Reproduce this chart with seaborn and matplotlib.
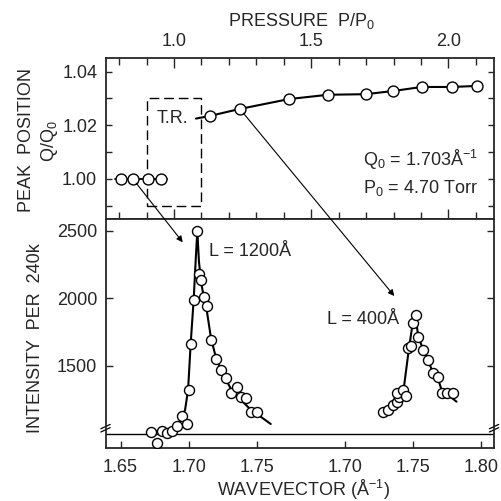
import numpy as np
import pandas as pd
import matplotlib
matplotlib.use("Agg")
import matplotlib.pyplot as plt
import matplotlib.transforms as mtransforms
from matplotlib.patches import Rectangle, ConnectionPatch
from matplotlib.ticker import FixedLocator, MultipleLocator
import seaborn as sns

# --- top panel: peak position vs pressure ---
pressure_low = [0.806, 0.850, 0.906, 0.953]
qpos_low = [1.000, 1.000, 1.000, 1.000]
pressure_high = [1.131, 1.240, 1.420, 1.562, 1.698, 1.799, 1.902, 2.012, 2.105]
qpos_high = [1.0235, 1.0261, 1.0298, 1.0314, 1.0316, 1.0328, 1.0343, 1.0343, 1.0347]

# --- bottom panel: scans (L=1200 A and L=400 A) ---
wv_1200 = [1.6724, 1.6766, 1.6805, 1.6839, 1.6876, 1.6917, 1.6952, 1.6986, 1.7001,
           1.7015, 1.7037, 1.7062, 1.7076, 1.7093, 1.7111, 1.7133, 1.7162, 1.7201,
           1.7238, 1.7275, 1.7309, 1.7353, 1.7385, 1.7421, 1.7456, 1.7500]
int_1200 = [1010, 929, 1022, 1003, 1022, 1057, 1133, 1069, 1323,
            1663, 1988, 2500, 2178, 2136, 2008, 1946, 1692, 1550,
            1470, 1414, 1298, 1347, 1273, 1261, 1158, 1158]
fit_wv_1200 = [1.6724, 1.6863, 1.6937, 1.6974, 1.6996, 1.7015, 1.7037, 1.7054, 1.7064,
               1.7076, 1.7095, 1.7113, 1.7135, 1.7164, 1.7201, 1.7238, 1.7275, 1.7311,
               1.7348, 1.7385, 1.7421, 1.7458, 1.7502, 1.7603]
fit_int_1200 = [1012, 1027, 1094, 1175, 1323, 1663, 1988, 2320, 2498,
                2269, 2099, 2003, 1899, 1707, 1560, 1470, 1397, 1330,
                1286, 1249, 1212, 1175, 1145, 1071]

wv_400 = [1.7280, 1.7317, 1.7353, 1.7378, 1.7397, 1.7378, 1.7426, 1.7446, 1.7463, 1.7481,
          1.7495, 1.7519, 1.7536, 1.7573, 1.7609, 1.7642, 1.7678, 1.7708, 1.7749, 1.7788]
int_400 = [1158, 1175, 1212, 1232, 1273, 1303, 1323, 1278, 1631, 1648,
           1816, 1877, 1717, 1618, 1544, 1450, 1416, 1303, 1303, 1303]
fit_wv_400 = [1.7280, 1.7329, 1.7380, 1.7426, 1.7468, 1.7495, 1.7512, 1.7536, 1.7573,
              1.7609, 1.7642, 1.7678, 1.7707, 1.7753, 1.7817]
fit_int_400 = [1158, 1190, 1249, 1308, 1633, 1816, 1892, 1717, 1618,
               1544, 1450, 1416, 1322, 1286, 1236]

# second scan is drawn on a shifted wavevector scale
SHIFT = 0.115
left_ticks = [1.65, 1.70, 1.75]
right_ticks = [1.70, 1.75, 1.80]

sns.set_style("ticks")
plt.rcParams["font.family"] = ["Liberation Sans", "DejaVu Sans"]
plt.rcParams["mathtext.default"] = "regular"
plt.rcParams["axes.linewidth"] = 1.3
FS = 13

fig = plt.figure(figsize=(5.02, 5.01), dpi=100)
ax_top = fig.add_axes([0.2102, 0.5623, 0.7739, 0.3213])
ax_bot = fig.add_axes([0.2102, 0.1064, 0.7739, 0.4559])

# top panel
ext = 0.02
low_line = pd.DataFrame({"P": [pressure_low[0] - ext] + pressure_low + [pressure_low[-1] + ext],
                         "Q": [qpos_low[0]] + qpos_low + [qpos_low[-1]]})
sns.lineplot(data=low_line, x="P", y="Q", ax=ax_top, color="black", lw=1.3,
             sort=False, estimator=None)
high_line = pd.DataFrame({"P": [1.08] + pressure_high, "Q": [qpos_high[0] - 0.0010] + qpos_high})
sns.lineplot(data=high_line, x="P", y="Q", ax=ax_top, color="black", lw=1.5,
             sort=False, estimator=None)
for px, qy in [(pressure_low, qpos_low), (pressure_high, qpos_high)]:
    sns.scatterplot(x=px, y=qy, ax=ax_top, marker="o", s=62, facecolor="white",
                    edgecolor="black", linewidth=1.0, zorder=3)

ax_top.add_patch(Rectangle((0.90, 0.99), 0.20, 0.04, fill=False, ec="black",
                           lw=1.0, ls=(0, (7, 3.5))))
ax_top.text(0.938, 1.0227, "T.R.", fontsize=FS, ha="left", va="center")
ax_top.text(1.689, 1.0071, "Q$_0$ = 1.703Å$^{-1}$", fontsize=FS, ha="left", va="center")
ax_top.text(1.689, 0.9966, "P$_0$ = 4.70 Torr", fontsize=FS, ha="left", va="center")

ax_top.set_xlim(0.7505, 2.166)
ax_top.set_ylim(0.9849, 1.045)
ax_top.xaxis.set_major_locator(FixedLocator([1.0, 1.5, 2.0]))
ax_top.xaxis.set_minor_locator(MultipleLocator(0.1))
ax_top.set_xticklabels(["1.0", "1.5", "2.0"])
ax_top.yaxis.set_major_locator(FixedLocator([1.00, 1.02, 1.04]))
ax_top.yaxis.set_minor_locator(FixedLocator([0.99, 1.01, 1.03]))
ax_top.set_yticklabels(["1.00", "1.02", "1.04"])
ax_top.tick_params(axis="x", which="both", direction="in", top=True, bottom=True,
                   labeltop=True, labelbottom=False, width=1.0, pad=6, labelsize=FS)
ax_top.tick_params(axis="x", which="major", length=7)
ax_top.tick_params(axis="x", which="minor", length=5)
ax_top.tick_params(axis="y", which="both", direction="in", left=True, right=True,
                   length=4.5, width=1.0, pad=6, labelsize=FS)
ax_top.set_xlabel("")
ax_top.set_ylabel("")

# bottom panel
sns.lineplot(x=fit_wv_1200, y=fit_int_1200, ax=ax_bot, color="black", lw=1.5,
             sort=False, estimator=None)
sns.lineplot(x=np.array(fit_wv_400) + SHIFT, y=fit_int_400, ax=ax_bot, color="black",
             lw=1.5, sort=False, estimator=None)
sns.scatterplot(x=wv_1200, y=int_1200, ax=ax_bot, marker="o", s=52, facecolor="white",
                edgecolor="black", linewidth=1.0, zorder=3)
sns.scatterplot(x=np.array(wv_400) + SHIFT, y=int_400, ax=ax_bot, marker="o", s=52,
                facecolor="white", edgecolor="black", linewidth=1.0, zorder=3)

ax_bot.axhline(1000, color="black", lw=1.0, zorder=1)
brk = mtransforms.blended_transform_factory(ax_bot.transAxes, ax_bot.transData)
for xs in (0.0, 1.0):
    for dy in (-12, 12):
        ax_bot.plot([xs - 0.012, xs + 0.012], [1040 + dy - 16, 1040 + dy + 16],
                    transform=brk, color="black", lw=0.9, clip_on=False)

ax_bot.text(1.715, 2343, "L = 1200Å", fontsize=FS, ha="left", va="center")
ax_bot.text(1.8016, 1840, "L = 400Å", fontsize=FS, ha="left", va="center")

ax_bot.set_xlim(1.639, 1.9242)
ax_bot.set_ylim(896, 2584)
ax_bot.set_xticks(left_ticks + [t + SHIFT for t in right_ticks])
ax_bot.set_xticklabels([f"{t:.2f}" for t in left_ticks + right_ticks])
ax_bot.set_yticks([1500, 2000, 2500])
ax_bot.tick_params(axis="x", direction="in", top=False, bottom=True, length=5,
                   width=1.0, pad=8, labelsize=FS)
ax_bot.tick_params(axis="y", direction="in", left=True, right=True, length=5,
                   width=1.0, pad=6, labelsize=FS)
ax_bot.set_xlabel("")
ax_bot.set_ylabel("")

# arrows from the top panel down to the scans
for start, end in [((pressure_low[1], qpos_low[1]), (1.6957, 2414)),
                   ((pressure_high[1], qpos_high[1]), (1.736 + SHIFT, 2017))]:
    con = ConnectionPatch(xyA=start, coordsA=ax_top.transData, xyB=end,
                          coordsB=ax_bot.transData, arrowstyle="-|>",
                          mutation_scale=9, lw=0.8, color="black", shrinkA=4, shrinkB=0)
    fig.add_artist(con)

# axis titles
fig.text(0.601, 0.9587, "PRESSURE  P/P$_0$", fontsize=FS, ha="center", va="center")
fig.text(0.0518, 0.7206, "PEAK  POSITION", fontsize=FS, rotation=90, ha="center", va="center")
fig.text(0.0996, 0.7186, "Q/Q$_0$", fontsize=FS, rotation=90, ha="center", va="center")
fig.text(0.0717, 0.3253, "INTENSITY  PER  240k", fontsize=FS, rotation=90,
         ha="center", va="center")
fig.text(0.6036, 0.022, "WAVEVECTOR (Å$^{-1}$)", fontsize=FS, ha="center", va="center")

fig.savefig("out.png", dpi=100)
